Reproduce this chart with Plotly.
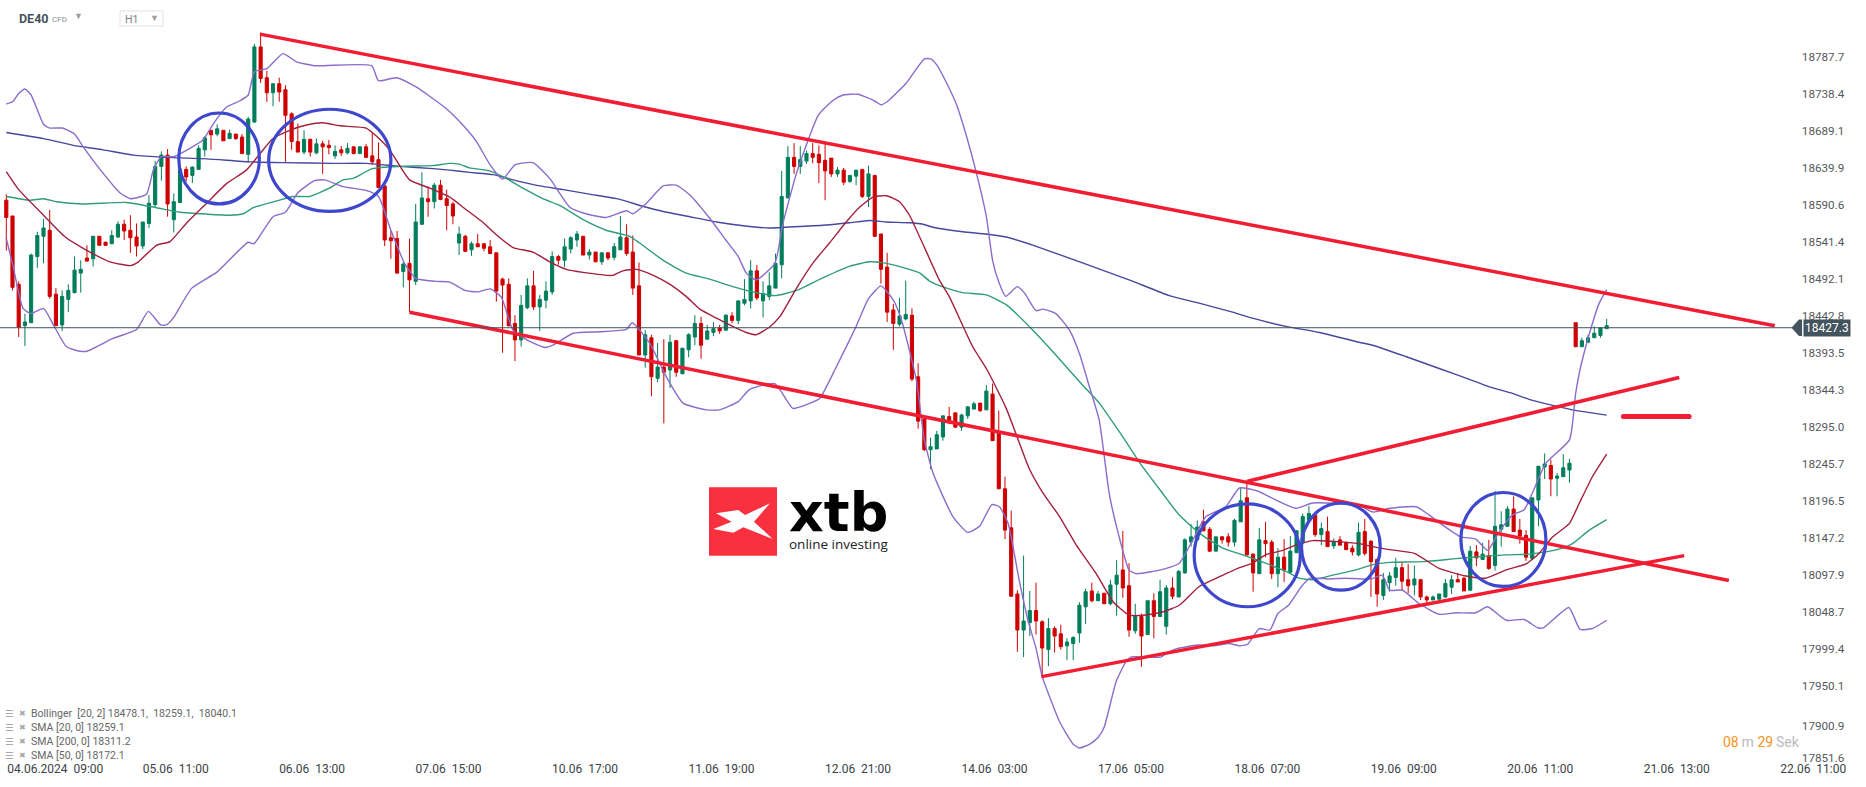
import plotly.graph_objects as go

W, H = 1866, 787

# ---- OHLC per hourly bar (DE40 H1) ----
opens = [
18597,18576,18485,18430,18434,18522,18549,18557,18472,18431,
18465,18474,18500,18520,18519,18549,18541,18539,18548,18565,
18557,18548,18536,18566,18591,18642,18657,18571,18594,18638,
18630,18638,18664,18690,18685,18690,18679,18685,18681,18658,
18701,18801,18760,18740,18752,18744,18712,18675,18661,18678,
18660,18672,18670,18656,18664,18660,18668,18659,18668,18656,
18651,18616,18547,18546,18502,18513,18489,18565,18599,18595,
18617,18599,18592,18540,18549,18531,18539,18539,18535,18527,
18492,18485,18433,18411,18454,18483,18455,18464,18475,18522,
18517,18532,18544,18549,18524,18528,18515,18527,18521,18531,
18547,18528,18483,18391,18414,18360,18375,18371,18410,18366,
18398,18415,18433,18412,18421,18427,18424,18443,18437,18460,
18463,18503,18463,18469,18480,18511,18600,18654,18642,18649,
18659,18658,18650,18653,18632,18637,18622,18629,18638,18602,
18630,18552,18508,18451,18432,18439,18444,18362,18306,18265,
18266,18282,18309,18314,18295,18310,18319,18327,18318,18339,
18289,18213,18161,18073,18025,18035,18051,18036,17999,18027,
18020,18004,18007,18021,18056,18077,18064,18074,18060,18086,
18105,18084,18024,18043,18019,18064,18043,18030,18081,18069,
18101,18142,18145,18169,18159,18130,18149,18149,18142,18169,
18201,18126,18100,18144,18142,18100,18122,18102,18128,18141,
18171,18178,18152,18156,18137,18145,18141,18134,18125,18156,
18143,18119,18071,18088,18095,18108,18092,18085,18092,18069,
18065,18066,18069,18082,18092,18094,18078,18129,18119,18124,
18111,18159,18163,18186,18158,18151,18120,18198,18242,18244,
18227,18229,18238,18434,18402,18408,18414,18417,18426]
highs = [
18605,18576,18489,18446,18526,18555,18572,18584,18480,18477,
18485,18522,18517,18537,18549,18549,18542,18557,18569,18571,
18577,18566,18568,18604,18649,18662,18665,18606,18638,18642,
18642,18670,18682,18690,18698,18690,18691,18685,18685,18708,
18805,18820,18769,18752,18760,18750,18714,18699,18690,18679,
18679,18676,18677,18670,18669,18673,18668,18668,18672,18687,
18674,18616,18556,18556,18515,18546,18592,18634,18615,18620,
18624,18611,18595,18562,18551,18542,18552,18540,18544,18527,
18494,18493,18444,18471,18493,18503,18471,18489,18529,18524,
18546,18549,18556,18549,18532,18528,18527,18527,18540,18576,
18565,18550,18514,18424,18418,18407,18412,18418,18411,18400,
18420,18444,18442,18431,18435,18431,18445,18448,18464,18492,
18517,18511,18489,18501,18526,18636,18669,18673,18669,18663,
18673,18670,18672,18653,18641,18640,18630,18637,18638,18643,
18630,18552,18527,18459,18467,18490,18453,18380,18311,18281,
18290,18310,18322,18314,18313,18323,18329,18327,18351,18353,
18317,18229,18184,18078,18124,18077,18088,18038,18041,18030,
18032,18014,18017,18062,18080,18088,18077,18074,18092,18118,
18157,18114,18060,18047,18064,18074,18092,18085,18095,18105,
18147,18166,18171,18185,18162,18149,18150,18154,18173,18214,
18225,18127,18161,18169,18145,18134,18146,18150,18158,18180,
18190,18180,18168,18176,18147,18150,18143,18138,18168,18173,
18145,18120,18101,18102,18121,18116,18113,18111,18093,18071,
18071,18073,18093,18098,18101,18096,18137,18138,18141,18145,
18210,18183,18190,18203,18173,18158,18201,18243,18260,18252,
18234,18259,18253,18434,18414,18418,18429,18428,18439]
lows = [
18530,18477,18415,18403,18434,18507,18513,18466,18430,18423,
18448,18473,18474,18515,18509,18537,18536,18539,18547,18544,
18527,18522,18532,18560,18587,18623,18575,18554,18594,18622,
18620,18638,18655,18664,18682,18676,18679,18677,18659,18647,
18700,18753,18728,18722,18728,18648,18664,18661,18658,18655,
18658,18632,18658,18652,18656,18658,18658,18659,18653,18644,
18613,18536,18519,18499,18481,18448,18484,18564,18575,18586,
18597,18557,18565,18524,18528,18523,18535,18529,18526,18462,
18394,18429,18383,18402,18452,18451,18423,18453,18471,18511,
18508,18526,18535,18524,18518,18515,18511,18517,18517,18531,
18523,18471,18391,18374,18336,18355,18300,18347,18362,18366,
18388,18404,18386,18412,18416,18419,18424,18433,18432,18457,
18453,18464,18441,18464,18480,18493,18600,18632,18632,18645,
18646,18620,18597,18628,18628,18617,18620,18617,18600,18588,
18548,18486,18435,18398,18429,18437,18356,18293,18263,18239,
18266,18277,18299,18294,18290,18306,18319,18315,18318,18277,
18213,18146,18070,17996,17989,18017,18019,17961,17977,17995,
17999,17985,17985,18008,18033,18062,18064,18060,18058,18044,
18068,18016,18020,17976,18019,18014,18043,18019,18066,18069,
18100,18136,18145,18157,18129,18130,18140,18136,18136,18169,
18124,18076,18100,18122,18093,18082,18089,18101,18128,18141,
18171,18149,18138,18136,18133,18138,18132,18124,18123,18124,
18069,18056,18065,18076,18084,18077,18074,18071,18065,18060,
18065,18066,18068,18073,18089,18077,18078,18110,18118,18105,
18104,18136,18163,18156,18140,18117,18118,18163,18226,18203,
18203,18229,18221,18402,18402,18407,18414,18414,18426]
closes = [
18574,18481,18428,18435,18524,18550,18560,18469,18430,18469,
18477,18504,18505,18516,18549,18537,18537,18550,18565,18556,
18547,18536,18568,18593,18642,18657,18592,18595,18638,18628,
18641,18666,18680,18684,18692,18676,18686,18679,18659,18705,
18801,18759,18740,18752,18741,18710,18675,18661,18678,18661,
18672,18668,18667,18662,18660,18666,18659,18668,18654,18648,
18614,18544,18543,18500,18512,18491,18568,18600,18595,18617,
18598,18590,18576,18552,18529,18539,18535,18533,18526,18476,
18484,18430,18411,18457,18483,18455,18465,18476,18522,18517,
18535,18547,18552,18524,18528,18515,18527,18520,18535,18548,
18526,18480,18391,18418,18362,18375,18368,18408,18368,18400,
18418,18433,18404,18423,18426,18423,18444,18437,18463,18465,
18503,18467,18473,18483,18513,18602,18654,18642,18651,18659,
18654,18647,18636,18632,18637,18621,18630,18637,18602,18632,
18549,18505,18448,18433,18443,18445,18359,18303,18265,18269,
18285,18310,18301,18295,18311,18322,18326,18317,18343,18277,
18213,18158,18070,18025,18037,18051,18037,18001,18027,18017,
18003,18009,18015,18058,18076,18064,18073,18060,18085,18098,
18081,18025,18043,18017,18064,18043,18076,18081,18070,18103,
18145,18149,18162,18157,18130,18149,18145,18142,18171,18197,
18125,18101,18145,18140,18100,18122,18105,18130,18157,18176,
18180,18152,18160,18136,18143,18138,18132,18129,18155,18127,
18116,18073,18092,18097,18108,18090,18084,18093,18069,18065,
18069,18073,18087,18092,18089,18077,18130,18121,18126,18107,
18163,18165,18186,18156,18150,18122,18201,18243,18246,18226,
18230,18241,18247,18402,18410,18414,18420,18427,18430]

# ---- Indicators (bar number, price) ----
bb_up_x = [0,1,2,3,4,6,7,9,11,12.4,15.4,18.3,20,22.6,23.7,25,27,29.6,31.7,33.4,35.5,37.6,39,40,42,44.6,46.8,49.7,58.9,60,62.9,66,68.3,70.9,73.6,75.8,78,80,82,84.9,87.6,90.8,93,96.7,100,101,103.2,105.9,108,110.2,113.4,116,118,119.3,120.9,123.9,125.2,127.4,130.9,133.3,134.9,137.3,140,141,142,145.1,148,149,150,152,153.2,154.8,156.4,158,159,160,161.1,163,164.2,166,167.1,169.2,171.4,173,174.6,176.2,177.8,179.4,181,182.1,184.8,187,189.1,191.3,193.4,196.6,198.8,201.7,204.7,207.9,210.6,218.1,220.3,223,227.3,229.4,231.5,234.5,236.9,238.8,240.7,242.8,244.7,246,248.2,252,253,253.8,255.7,256.8,258]
bb_up_y = [18725,18728,18739,18745,18737,18698,18693,18693,18685,18668,18635,18607,18599,18605,18637,18655,18655,18666,18677,18699,18721,18729,18737,18768,18772,18792,18781,18776,18776,18756,18760,18748,18735,18719,18697,18675,18644,18625,18644,18647,18626,18588,18580,18574,18583,18579,18593,18616,18617,18604,18573,18544,18522,18500,18491,18513,18566,18633,18710,18730,18737,18738,18729,18724,18728,18753,18785,18785,18777,18746,18724,18682,18633,18575,18517,18488,18469,18482,18473,18450,18452,18446,18424,18393,18349,18304,18207,18149,18105,18100,18103,18107,18114,18145,18176,18189,18214,18210,18198,18187,18194,18191,18182,18187,18189,18178,18165,18149,18146,18131,18156,18178,18185,18207,18247,18278,18340,18375,18433,18460,18478]
bb_mid_x = [0,2,6,9.5,12.4,16.7,20,21.3,24.2,26.4,29,32.3,35.5,38.7,40.9,43,45.7,48.4,51,53.8,58,59.7,61.8,65,68.3,71.5,74.2,76.9,79,81.7,84.9,87.6,90.3,93,97.8,99.4,101.6,104.3,107,109.6,111.8,114.5,117.1,119.3,120.9,123,124.7,127.4,130,132.7,135.4,137.6,139.7,141.9,144,145.6,150.4,152,155.8,158,161.2,164.9,167,169.8,172.5,175.7,178.4,181,183.7,186.4,189.1,192.3,195.6,198.8,200.9,203,205.8,207.9,210.6,213.8,218.1,220.3,223,227,231,235.3,238.5,241.8,245,247.1,249.3,252,253.6,255.7,258]
bb_mid_y = [18635,18611,18577,18548,18533,18515,18510,18515,18537,18542,18566,18593,18619,18637,18659,18679,18690,18697,18700,18696,18693,18682,18664,18624,18613,18601,18584,18567,18551,18534,18528,18515,18505,18501,18497,18503,18505,18497,18485,18469,18452,18440,18429,18421,18418,18428,18442,18480,18513,18540,18568,18588,18601,18603,18595,18577,18491,18469,18402,18373,18320,18240,18209,18176,18138,18100,18063,18045,18045,18049,18058,18083,18096,18108,18114,18125,18131,18138,18144,18143,18140,18136,18132,18127,18107,18097,18094,18105,18113,18127,18149,18167,18194,18229,18259]
bb_low_x = [0,1.1,2.7,4,6,7.6,9.7,11.9,13,17.2,21,22.9,24.9,25.8,26.9,29.9,33.9,39,39.9,43,45,47,49.7,51.3,54.3,58,60,62,64.2,66,69.3,71.5,73.9,76,78,79.8,81.7,84.4,86.8,88.1,91.4,95.7,100,100.9,103.7,106.4,109.1,112.9,115,118,119.8,123.9,126.8,128.7,131.1,133.8,137,139,141,143,144.3,146.7,148,149.4,152.6,155,156.9,158.9,160.1,161.5,163.3,164.7,166,167,168.2,169.8,172,173,174.6,176,177,178.9,180.5,181.3,186.1,187,188.6,192,194.5,197.2,198.8,200.1,202,203.7,205,206.7,208.8,210.2,213.1,215.8,220,221.7,222.2,223,225.1,227.8,231,233.7,236.9,238.8,241.8,244.7,246.9,247.8,251.9,253.7,255.7,258]
bb_low_y = [18546,18509,18453,18446,18453,18431,18402,18396,18396,18413,18425,18449,18431,18431,18440,18480,18501,18541,18539,18575,18581,18607,18623,18624,18615,18610,18602,18557,18513,18493,18489,18488,18477,18475,18479,18468,18424,18409,18401,18404,18420,18422,18425,18434,18407,18362,18327,18318,18318,18329,18345,18353,18320,18324,18333,18375,18429,18466,18483,18464,18438,18358,18278,18234,18176,18155,18163,18192,18189,18167,18091,18038,18001,17963,17936,17903,17873,17868,17873,17882,17896,17956,17983,17989,17989,17994,18000,18005,18004,18007,18004,18006,18027,18025,18047,18058,18083,18094,18093,18094,18093,18098,18093,18078,18078,18060,18046,18048,18048,18056,18038,18039,18028,18028,18055,18026,18027,18038]
sma50_x = [0,3.8,6,8.1,12.4,19.4,24.2,28,31.2,36,38.2,39.8,43.6,46.2,48.9,52.1,54.3,55.9,59,63.4,68.8,71.5,73,74.7,77.9,80.6,83.3,86.5,89.2,93,96.7,100.5,102.1,105.9,109.6,113.4,117.1,120.9,123.9,127.4,131.7,135.9,139.2,141.9,145.6,147.3,148.9,151.6,154.2,158,161.2,165.5,169.2,173.5,176.2,180,183.2,186.4,189.1,192.3,196.1,199.3,203,206.3,208.4,210.6,213.8,217.6,220.3,223,228.3,233.7,238,241.8,245.5,248.2,250.9,252.5,255.2,258]
sma50_y = [18602,18597,18599,18595,18592,18594,18587,18581,18579,18577,18579,18587,18596,18602,18602,18613,18624,18626,18639,18642,18643,18646,18645,18640,18636,18626,18613,18599,18590,18571,18557,18549,18540,18517,18500,18492,18482,18474,18470,18477,18494,18509,18515,18513,18505,18500,18489,18480,18474,18471,18458,18424,18391,18351,18327,18282,18242,18207,18178,18154,18134,18125,18114,18103,18094,18092,18098,18105,18112,18115,18116,18120,18123,18125,18126,18129,18134,18140,18158,18172]
sma200_x = [0,6,10.8,15.6,20.5,25.8,32.3,39.3,44.6,52.7,58,63.4,68.8,71.5,74.7,78.5,81.7,86,89.8,94,98.4,102.6,105.9,110.2,114.5,118.8,123,127.9,132.2,135.9,139.2,141.9,145.6,147.8,149.4,154.2,158,161.2,166.6,181,187.5,192.3,197.7,200.9,206.3,211.7,218.1,220.3,225.6,231,236.4,239,242.8,245.5,249.3,252.5,258]
sma200_y = [18687,18679,18670,18664,18657,18654,18652,18648,18647,18646,18646,18642,18639,18637,18634,18631,18624,18616,18611,18605,18599,18589,18582,18575,18568,18563,18560,18562,18564,18567,18570,18568,18567,18565,18561,18555,18552,18548,18534,18491,18470,18460,18448,18440,18429,18421,18408,18404,18389,18373,18357,18349,18340,18332,18324,18318,18311]

# ---- Hand-drawn analysis lines (start bar, end bar, start price, end price) ----
channel_top_x, channel_top_y = [40.9, 285.1], [18818, 18430]
channel_low_x, channel_low_y = [65.0, 277.7], [18448, 18091]
rise_top_x, rise_top_y = [200.1, 269.7], [18223, 18361]
rise_low_x, rise_low_y = [166.9, 270.5], [17963, 18124]
flat_x, flat_y = [260.7, 271.3], [18309, 18309]

# ellipses: bar from, bar to, price low, price high
ellipses = [
    (27.8, 40.8, 18592, 18713),
    (42.3, 62.0, 18582, 18718),
    (191.5, 208.6, 18056, 18193),
    (208.8, 221.5, 18078, 18194),
    (234.5, 248.2, 18083, 18208),
]

last_price = 18427.3
y_ticks = [18787.7,18738.4,18689.1,18639.9,18590.6,18541.4,18492.1,18442.8,18393.5,18344.3,
           18295.0,18245.7,18196.5,18147.2,18097.9,18048.7,17999.4,17950.1,17900.9,17851.6]
# the lowest two labels sit a little off their level in the reference
y_tick_place = y_ticks[:-2] + [17898.0, 17855.0]
x_tick_text = ["04.06.2024\u00a0 09:00","05.06\u00a0 11:00","06.06\u00a0 13:00","07.06\u00a0 15:00",
               "10.06\u00a0 17:00","11.06\u00a0 19:00","12.06\u00a0 21:00","14.06\u00a0 03:00",
               "17.06\u00a0 05:00","18.06\u00a0 07:00","19.06\u00a0 09:00","20.06\u00a0 11:00",
               "21.06\u00a0 13:00","22.06\u00a0 11:00"]
x_tick_bar = [7.9,27.3,49.3,71.3,93.3,115.3,137.3,159.3,181.3,203.3,225.3,247.3,269.3,291.3]
legend_rows = ["Bollinger\u00a0 [20, 2] 18478.1,\u00a0 18259.1,\u00a0 18040.1",
               "SMA [20, 0] 18259.1", "SMA [200, 0] 18311.2", "SMA [50, 0] 18172.1"]

PX_PER_BAR = 6.203
X0_PX = 6.3
PRICE_TOP = 18863.4
PRICE_PER_PX = 1.3307

RED = "#f21c33"
BLUE = "#3f48cc"
PURPLE = "#8a6ccb"

def px(x): return x / W
def py(y): return 1 - y / H

fig = go.Figure()
fig.add_trace(go.Candlestick(
    x=list(range(len(opens))), open=opens, high=highs, low=lows, close=closes,
    increasing=dict(line=dict(color="#007e5c", width=1), fillcolor="#007e5c"),
    decreasing=dict(line=dict(color="#cf0000", width=1), fillcolor="#cf0000"),
    whiskerwidth=0, hoverinfo="skip"))

def curve(x, y, color, width=1.4):
    fig.add_trace(go.Scatter(x=x, y=y, mode="lines", hoverinfo="skip",
                             line=dict(color=color, width=width, shape="spline", smoothing=0.5)))

curve(sma200_x, sma200_y, "#47479e")
curve(sma50_x, sma50_y, "#2f9c7a")
curve(bb_mid_x, bb_mid_y, "#a31f3e")
curve(bb_up_x, bb_up_y, PURPLE)
curve(bb_low_x, bb_low_y, PURPLE)

for xs, ys in [(channel_top_x, channel_top_y), (channel_low_x, channel_low_y),
               (rise_top_x, rise_top_y), (rise_low_x, rise_low_y)]:
    fig.add_trace(go.Scatter(x=xs, y=ys, mode="lines", hoverinfo="skip",
                             line=dict(color=RED, width=3.5)))
fig.add_trace(go.Scatter(x=flat_x, y=flat_y, mode="lines+markers", hoverinfo="skip",
                         line=dict(color=RED, width=5), marker=dict(color=RED, size=5)))

shapes = []
for x0, x1, y0, y1 in ellipses:
    shapes.append(dict(type="circle", xref="x", yref="y", x0=x0, x1=x1, y0=y0, y1=y1,
                       line=dict(color=BLUE, width=3.2)))
# last-price line and tag notch
shapes.append(dict(type="line", xref="paper", yref="y", x0=0, x1=px(1795), y0=last_price, y1=last_price,
                   line=dict(color="#44545f", width=1), layer="above"))
shapes.append(dict(type="path", xref="x", yref="y", fillcolor="#44545f", line=dict(width=0),
                   path=f"M 287.8 {last_price} L 289 {last_price+11} L 289.5 {last_price+11} L 289.5 {last_price-11} L 289 {last_price-11} Z"))
# H1 box
shapes.append(dict(type="rect", xref="paper", yref="paper", x0=px(120), x1=px(163), y0=py(26), y1=py(11),
                   line=dict(color="#e2e2e2", width=1), fillcolor="white"))
# logo square and X
shapes.append(dict(type="rect", xref="paper", yref="paper", x0=px(709), x1=px(777), y0=py(555.7), y1=py(487.3),
                   line=dict(width=0), fillcolor="#f9303f"))
logo_pts = [(108,130),(175,120),(195,135),(270,100),(222,155),(278,207),(190,172),(160,188),(100,177),(155,155)]
logo_path = "M " + " L ".join(f"{px(680+a/3):.5f} {py(470+b/3):.5f}" for a, b in logo_pts) + " Z"
shapes.append(dict(type="path", xref="paper", yref="paper", path=logo_path, fillcolor="white", line=dict(width=0)))

def note(x, y, text, size, color, anchor="left", family="Roboto", **kw):
    return dict(xref="paper", yref="paper", x=px(x), y=py(y), text=text, showarrow=False,
                xanchor=anchor, yanchor="middle", align=anchor,
                font=dict(family=family, size=size, color=color), borderpad=0, borderwidth=0, **kw)

anns = [
    note(19, 19, "<b>DE40</b>", 12.5, "#47535c"),
    note(52, 19.5, "CFD", 8, "#8a8f94"),
    note(74, 16, "▼", 9, "#a0a0a0"),
    note(125, 20, "H1", 10.5, "#7a7f84"),
    note(150, 17.5, "▼", 9, "#a0a0a0"),
    note(789, 512, "<b>xtb</b>", 54, "#000000", family="DejaVu Sans"),
    note(789, 544, "online investing", 13.5, "#222222", family="Open Sans"),
    note(1723, 742, '<span style="color:#f7941d">08</span><span style="color:#b9bcbf">\u2009m</span> '
                    '<span style="color:#f7941d">29</span><span style="color:#b9bcbf">\u2009Sek</span>', 14, "#f7941d"),
    dict(xref="paper", yref="y", x=px(1851), y=last_price, text="18427.3", showarrow=False,
         xanchor="right", yanchor="middle", bgcolor="#44545f", borderpad=1,
         font=dict(family="Roboto", size=12, color="white")),
]
for i, row in enumerate(legend_rows):
    y = 713.5 + 14 * i
    anns.append(note(5, y, "☰", 9.5, "#a8a8a8", family="DejaVu Sans"))
    anns.append(note(19, y, "✖", 8, "#a8a8a8", family="DejaVu Sans"))
    anns.append(note(31, y, row, 10.5, "#666666"))

fig.update_layout(
    width=W, height=H, margin=dict(l=0, r=0, t=0, b=0, pad=0),
    paper_bgcolor="white", plot_bgcolor="white", showlegend=False, boxgap=0.28,
    shapes=shapes, annotations=anns,
    xaxis=dict(range=[-X0_PX / PX_PER_BAR, (W - X0_PX) / PX_PER_BAR], rangeslider=dict(visible=False),
               showgrid=False, zeroline=False, showline=False,
               tickmode="array", tickvals=x_tick_bar, ticktext=x_tick_text,
               ticks="inside", ticklen=11, tickcolor="rgba(0,0,0,0)",
               ticklabelposition="inside", ticklabeloverflow="allow",
               tickfont=dict(family="Roboto", size=12, color="#3a4248")),
    yaxis=dict(range=[PRICE_TOP - PRICE_PER_PX * H, PRICE_TOP], side="right",
               showgrid=False, zeroline=False, showline=False,
               tickmode="array", tickvals=y_tick_place, ticktext=[f"{v:.1f}" for v in y_ticks],
               ticks="inside", ticklen=21, tickcolor="rgba(0,0,0,0)",
               ticklabelposition="inside", ticklabeloverflow="allow",
               tickfont=dict(family="Roboto", size=11.7, color="#55595e")),
)

fig.write_html("out.html", config=dict(displayModeBar=False),
               post_script="document.body.style.margin='0';document.body.style.overflow='hidden';")
